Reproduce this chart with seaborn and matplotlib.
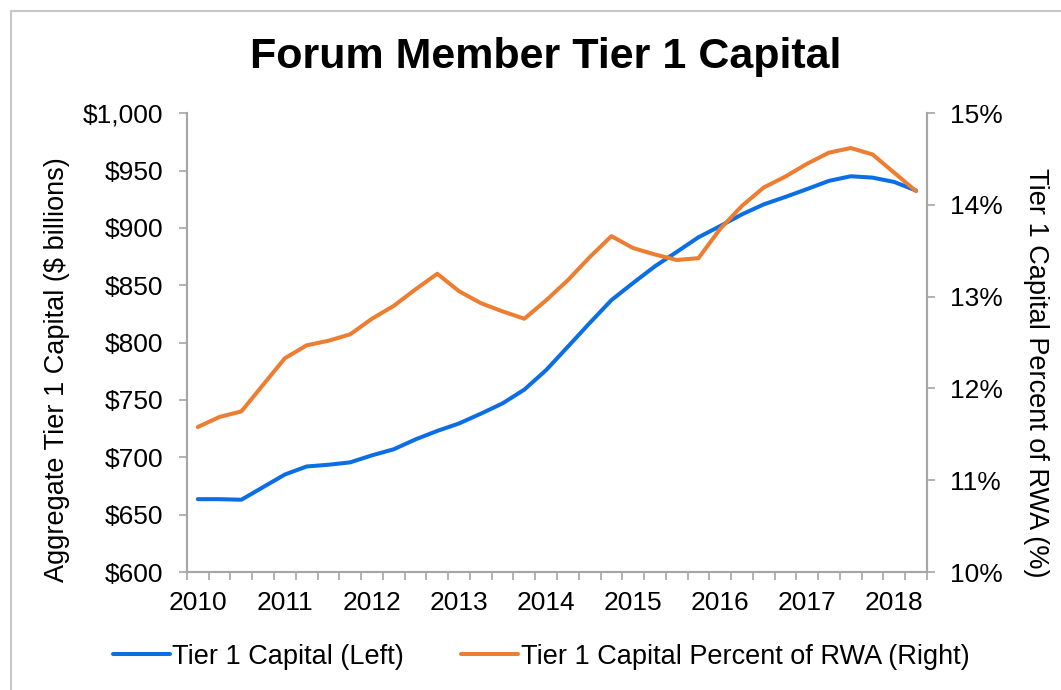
import matplotlib
matplotlib.use("Agg")
from matplotlib import pyplot as plt
from matplotlib.lines import Line2D
from matplotlib.ticker import FuncFormatter
import pandas as pd
import seaborn as sns

# quarterly, 2010 Q1 .. 2018 Q2
quarters = [f"{y}Q{q}" for y in range(2010, 2019) for q in range(1, 5)][:34]
year_labels = ["2010", "2011", "2012", "2013", "2014",
               "2015", "2016", "2017", "2018"]

tier1_capital = [663.5, 663.5, 663, 674, 685, 692, 693.5, 695.6, 701.7, 707,
                 715.6, 723, 729.5, 738, 747, 759, 776, 796.4, 817, 837,
                 852, 866.5, 879, 891.8, 901.6, 911.8, 920.5, 927, 933.9, 941,
                 945, 943.8, 940, 932.5]
tier1_pct_rwa = [11.58, 11.69, 11.75, 12.04, 12.33, 12.47, 12.52, 12.59, 12.76, 12.90,
                 13.08, 13.25, 13.06, 12.93, 12.84, 12.76, 12.96, 13.18, 13.43, 13.66,
                 13.53, 13.46, 13.40, 13.42, 13.74, 13.99, 14.19, 14.31, 14.45, 14.57,
                 14.62, 14.55, 14.35, 14.15]

BLUE = "#0b6fe3"
ORANGE = "#ed7d31"
GREY = "#a6a6a6"


def main():
    df = pd.DataFrame({"idx": range(len(quarters)), "quarter": quarters,
                       "capital": tier1_capital, "pct": tier1_pct_rwa})

    sns.set_style("white")
    plt.rcParams["font.family"] = ["Liberation Sans", "DejaVu Sans"]
    plt.rcParams["text.color"] = "black"
    plt.rcParams["xtick.color"] = "black"
    plt.rcParams["ytick.color"] = "black"
    plt.rcParams["axes.labelcolor"] = "black"

    fig = plt.figure(figsize=(10.61, 6.90), dpi=100)
    ax = fig.add_axes([0.1762, 0.171, 0.6975, 0.665])
    ax2 = ax.twinx()

    sns.lineplot(data=df, x="idx", y="capital", ax=ax, color=BLUE, linewidth=2.9)
    sns.lineplot(data=df, x="idx", y="pct", ax=ax2, color=ORANGE, linewidth=2.9)

    ax.set_xlim(-0.5, len(quarters) - 0.5)
    ax.set_ylim(600, 1000)
    ax2.set_ylim(10, 15)
    ax.set_yticks(range(600, 1001, 50))
    ax2.set_yticks(range(10, 16))
    ax.yaxis.set_major_formatter(FuncFormatter(lambda v, p: f"${v:,.0f}"))
    ax2.yaxis.set_major_formatter(FuncFormatter(lambda v, p: f"{v:.0f}%"))

    ax.set_xticks(range(0, len(quarters), 4))
    ax.set_xticklabels(year_labels)
    ax.set_xticks([i - 0.5 for i in range(len(quarters) + 1)], minor=True)

    ax.tick_params(axis="x", which="major", length=0, pad=14, labelsize=19)
    ax.tick_params(axis="x", which="minor", length=5.8, width=1.2, color=GREY,
                   direction="out", bottom=True)
    ax.tick_params(axis="y", length=5.8, width=1.2, color=GREY, pad=11,
                   labelsize=19, direction="out", left=True)
    ax2.tick_params(axis="y", length=5.8, width=1.2, color=GREY, pad=11,
                    labelsize=19, direction="out", right=True)

    for a in (ax, ax2):
        a.spines["top"].set_visible(False)
        for s in ("left", "right", "bottom"):
            a.spines[s].set_color(GREY)
            a.spines[s].set_linewidth(1.5)
        a.grid(False)

    ax.set_xlabel("")
    ax.set_ylabel("Aggregate Tier 1 Capital ($ billions)", fontsize=19.5)
    ax2.set_ylabel("Tier 1 Capital Percent of RWA (%)", fontsize=19.5,
                   rotation=-90, labelpad=26)
    ax.yaxis.set_label_coords(-0.158, 0.44)
    ax2.yaxis.set_label_coords(1.165, 0.435)

    fig.text(0.514, 0.917, "Forum Member Tier 1 Capital", ha="center",
             va="center", fontsize=31, fontweight="bold")

    handles = [Line2D([], [], color=BLUE, linewidth=2.9),
               Line2D([], [], color=ORANGE, linewidth=2.9)]
    fig.legend(handles, ["Tier 1 Capital (Left)",
                         "Tier 1 Capital Percent of RWA (Right)"],
               loc="center", bbox_to_anchor=(0.51, 0.048), ncol=2,
               frameon=False, fontsize=19.5, handlelength=2.1,
               handletextpad=0.1, columnspacing=2.1)

    # light frame round the chart
    fig.add_artist(Line2D([0.0099, 0.0099], [0, 1 - 11 / 690], color="#c8c8c8",
                          linewidth=1.5, transform=fig.transFigure))
    fig.add_artist(Line2D([0.0099, 1], [1 - 11 / 690, 1 - 11 / 690],
                          color="#c8c8c8", linewidth=1.5,
                          transform=fig.transFigure))

    fig.savefig("out.png", dpi=100)
    plt.close(fig)


if __name__ == "__main__":
    main()
